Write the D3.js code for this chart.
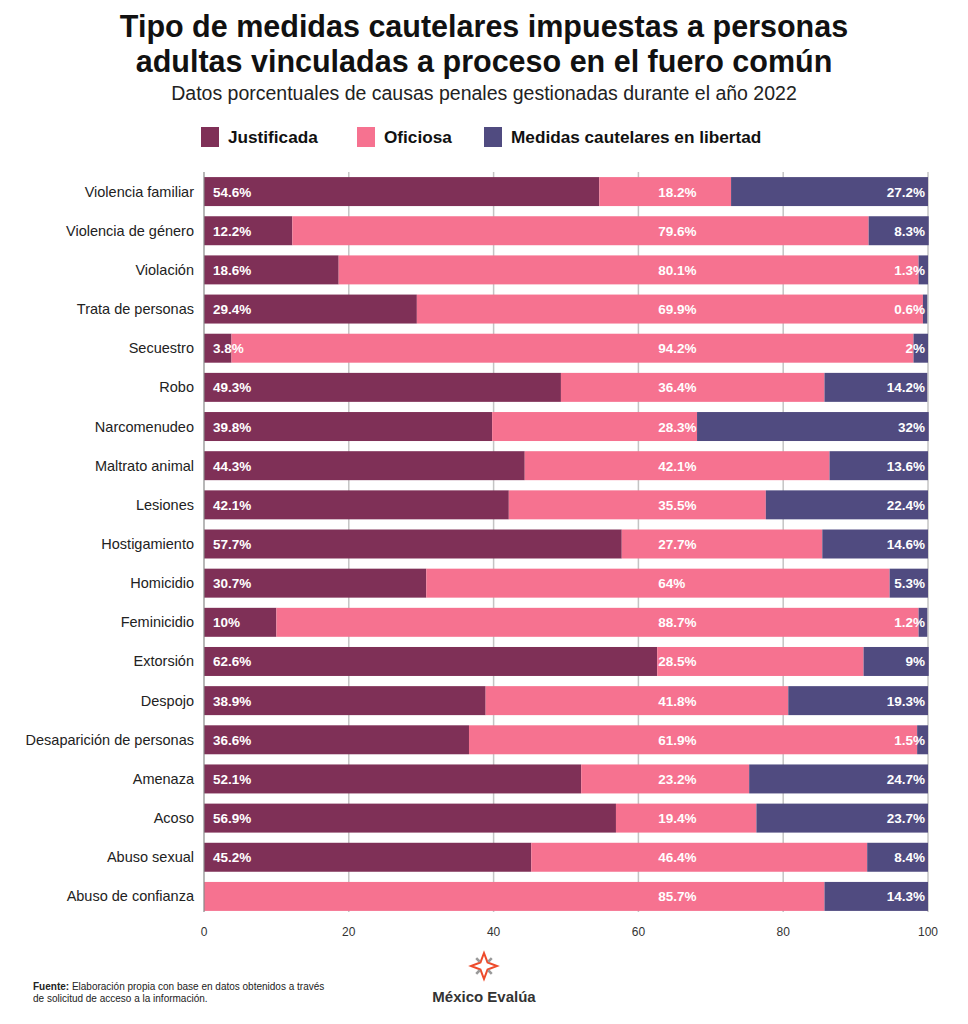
<!DOCTYPE html>
<html>
<head>
<meta charset="utf-8">
<script src="https://cdn.jsdelivr.net/npm/d3@7"></script>
<style>
  body { margin: 0; background: #fff; }
  svg { display: block; }
  text { font-family: "Liberation Sans", Arial, sans-serif; }
</style>
</head>
<body>
<svg id="chart" width="968" height="1024"></svg>
<script>
const categories = ["Violencia familiar", "Violencia de género", "Violación", "Trata de personas", "Secuestro",
  "Robo", "Narcomenudeo", "Maltrato animal", "Lesiones", "Hostigamiento", "Homicidio", "Feminicidio",
  "Extorsión", "Despojo", "Desaparición de personas", "Amenaza", "Acoso", "Abuso sexual", "Abuso de confianza"];
const justificada = [54.6, 12.2, 18.6, 29.4, 3.8, 49.3, 39.8, 44.3, 42.1, 57.7, 30.7, 10, 62.6, 38.9, 36.6, 52.1, 56.9, 45.2, 0];
const oficiosa = [18.2, 79.6, 80.1, 69.9, 94.2, 36.4, 28.3, 42.1, 35.5, 27.7, 64, 88.7, 28.5, 41.8, 61.9, 23.2, 19.4, 46.4, 85.7];
const libertad = [27.2, 8.3, 1.3, 0.6, 2, 14.2, 32, 13.6, 22.4, 14.6, 5.3, 1.2, 9, 19.3, 1.5, 24.7, 23.7, 8.4, 14.3];
const seriesNames = ["Justificada", "Oficiosa", "Medidas cautelares en libertad"];
const xTicks = [0, 20, 40, 60, 80, 100];

const colors = ["#7f3057", "#f67290", "#504b80"];

const svg = d3.select('#chart');
const x = d3.scaleLinear().domain([0, 100]).range([204, 928]);
const y = d3.scaleBand().domain(categories).range([172, 916]).paddingInner(0.26).paddingOuter(0.13);

const rows = categories.map((c, i) => ({ c, j: justificada[i], o: oficiosa[i], l: libertad[i] }));
const stack = d3.stack().keys(['j', 'o', 'l'])(rows);

// title
svg.append('text').attr('x', 484).attr('y', 37).attr('text-anchor', 'middle')
  .style('font-size', '30.5px').style('font-weight', 'bold').attr('fill', '#111')
  .text('Tipo de medidas cautelares impuestas a personas');
svg.append('text').attr('x', 484).attr('y', 72).attr('text-anchor', 'middle')
  .style('font-size', '30.5px').style('font-weight', 'bold').attr('fill', '#111')
  .text('adultas vinculadas a proceso en el fuero común');
svg.append('text').attr('x', 484).attr('y', 100).attr('text-anchor', 'middle')
  .style('font-size', '19.5px').attr('fill', '#222')
  .text('Datos porcentuales de causas penales gestionadas durante el año 2022');

// legend
const legendX = [201, 357, 484];
const legend = svg.append('g').selectAll('g').data(seriesNames).join('g')
  .attr('transform', (d, i) => `translate(${legendX[i]},127)`);
legend.append('rect').attr('width', 18).attr('height', 20).attr('fill', (d, i) => colors[i]);
legend.append('text').attr('x', 27).attr('y', 16)
  .style('font-size', '17.2px').style('font-weight', 'bold').attr('fill', '#111')
  .text(d => d);

// grid
svg.append('g').selectAll('line').data(xTicks.slice(1)).join('line')
  .attr('x1', d => x(d)).attr('x2', d => x(d)).attr('y1', 172).attr('y2', 912)
  .attr('stroke', '#c4c4c4').attr('stroke-width', 1.5);

// bars
svg.append('g').selectAll('g').data(stack).join('g')
  .attr('fill', (d, i) => colors[i])
  .selectAll('rect').data(d => d).join('rect')
  .attr('x', d => x(d[0])).attr('width', d => x(d[1]) - x(d[0]))
  .attr('y', d => y(d.data.c)).attr('height', y.bandwidth());

// axis line
svg.append('line').attr('x1', x(0)).attr('x2', x(0)).attr('y1', 172).attr('y2', 912)
  .attr('stroke', '#888').attr('stroke-width', 1.2);

// category labels
svg.append('g').selectAll('text').data(categories).join('text')
  .attr('x', 194).attr('y', d => y(d) + y.bandwidth() / 2 + 5)
  .attr('text-anchor', 'end').style('font-size', '14.5px').attr('fill', '#222')
  .text(d => d);

// value labels
const fmt = v => `${v}%`;
const labels = svg.append('g').style('font-size', '13.5px').style('font-weight', 'bold').attr('fill', '#fff');
const midX = x(d3.max(justificada)) + 1;
rows.forEach(r => {
  const cy = y(r.c) + y.bandwidth() / 2 + 5;
  if (r.j > 0) labels.append('text').attr('x', x(0) + 9).attr('y', cy).text(fmt(r.j));
  labels.append('text').attr('x', midX).attr('y', cy).text(fmt(r.o));
  labels.append('text').attr('x', x(100) - 3).attr('y', cy).attr('text-anchor', 'end').text(fmt(r.l));
});

// ticks
svg.append('g').selectAll('text').data(xTicks).join('text')
  .attr('x', d => x(d)).attr('y', 936).attr('text-anchor', 'middle')
  .style('font-size', '12px').attr('fill', '#333').text(d => d);

// footer
const foot = svg.append('text').attr('x', 33).attr('y', 990).style('font-size', '10px').attr('fill', '#222');
foot.append('tspan').style('font-weight', 'bold').text('Fuente:');
foot.append('tspan').text(' Elaboración propia con base en datos obtenidos a través');
svg.append('text').attr('x', 33).attr('y', 1002).style('font-size', '10px').attr('fill', '#222')
  .text('de solicitud de acceso a la información.');

// logo
const logo = svg.append('g').attr('transform', 'translate(484,966)');
const star = [];
for (let k = 0; k < 8; k++) {
  const a = -Math.PI / 2 + k * Math.PI / 4;
  const r = k % 2 === 0 ? 13 : 5;
  star.push([r * Math.cos(a), r * Math.sin(a)]);
}
logo.append('path').attr('d', d3.line()(star) + 'Z').attr('fill', 'none')
  .attr('stroke', '#ee4b2b').attr('stroke-width', 2).attr('stroke-linejoin', 'miter');
[45, 135, 225, 315].forEach(deg => {
  const a = (deg - 90) * Math.PI / 180;
  logo.append('line').attr('x1', 6 * Math.cos(a)).attr('y1', 6 * Math.sin(a))
    .attr('x2', 11 * Math.cos(a)).attr('y2', 11 * Math.sin(a))
    .attr('stroke', '#999').attr('stroke-width', 2.5);
});
svg.append('text').attr('x', 484).attr('y', 1002).attr('text-anchor', 'middle')
  .style('font-size', '15px').style('font-weight', 'bold').attr('fill', '#333').text('México Evalúa');
</script>
</body>
</html>
